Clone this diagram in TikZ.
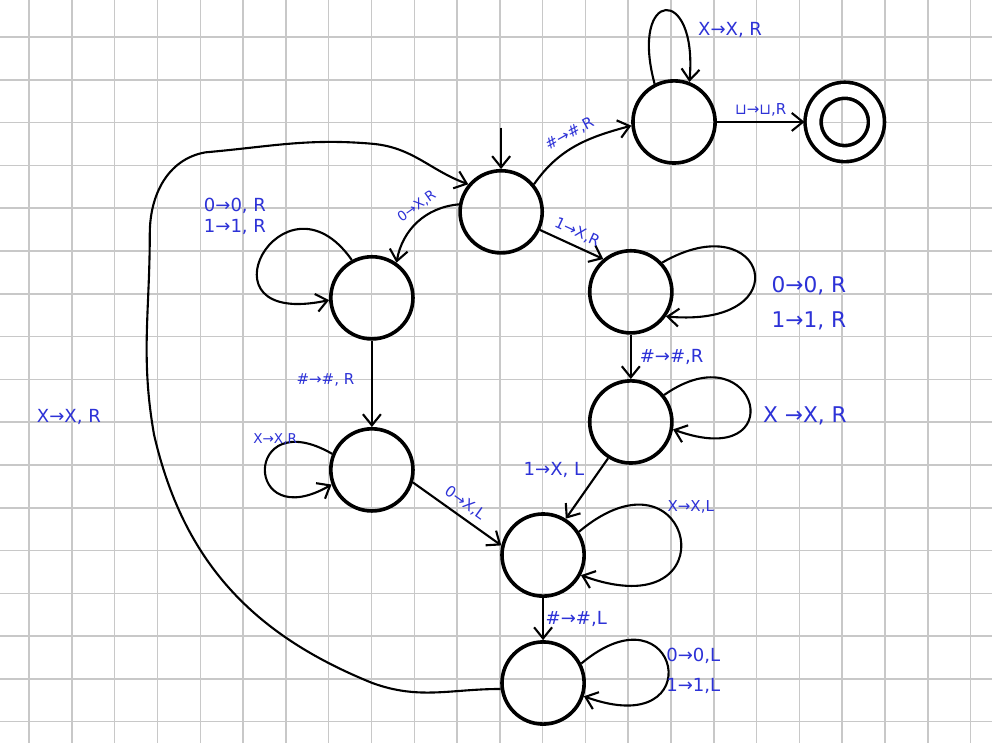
\documentclass[tikz,border=0pt]{standalone}
\usepackage{fontspec}
\setmainfont{DejaVu Sans}
\usepackage{tikz}
\usetikzlibrary{arrows.meta,positioning}
\definecolor{inkblue}{RGB}{45,50,215}
\definecolor{gridgray}{RGB}{200,200,200}
\tikzset{
  tm state/.style={
    circle,
    draw,
    line width=2.4pt,
    minimum size=1.92cm,
    inner sep=0pt
  },
  tm accept/.style={
    tm state,
    double,
    double distance=0.29cm,
    minimum size=1.48cm,
    outer sep=0.2cm
  },
  arrow/.style={
    -{Straight Barb[length=2.6mm,width=4.2mm]},
    line width=1.4pt
  },
  tm label/.style={
    text=inkblue,
    inner sep=1pt,
    font=\normalsize
  },
  paper/.style={
    gridgray,
    line width=1pt
  }
}

\begin{document}
\begin{tikzpicture}
  \useasboundingbox (0,0) rectangle (23.18,17.36);
  % squared paper
  \fill[white] (0,0) rectangle (23.18,17.36);
  \draw[paper, xshift=0.68cm, yshift=0.495cm] (-0.68,-0.495) grid (22.5,16.87);

  % states
  \node[tm state] (start) at (11.71,12.41) {};
  \node[tm state] (top) at (15.75,14.51) {};
  \node[tm accept] (acc) at (19.74,14.51) {};
  \node[tm state] (A) at (8.69,10.40) {};
  \node[tm state] (B) at (14.74,10.54) {};
  \node[tm state] (C) at (14.74,7.50) {};
  \node[tm state] (D) at (8.69,6.38) {};
  \node[tm state] (E) at (12.69,4.39) {};
  \node[tm state] (F) at (12.69,1.40) {};
  \coordinate (init) at (11.71,14.38);

  % initial arrow
  \draw[arrow] (init) -- (start);

  % upper branch
  \draw[arrow] (start.40) to[out=55,in=195] node[tm label, sloped, above=3pt, pos=0.5] (l1) {\#→\#,R} (top.185);
  \draw[arrow] (top.117) .. controls +(105:2.3) and +(85:2.3) .. (top.69);
  \node[tm label, font=\large] (l2) at (17.06,16.66) {X→X, R};
  \draw[arrow] (top) -- node[tm label, above=2pt] (l3) {⊔→⊔,R} (acc);

  % left branch
  \draw[arrow] (start.170) to[out=185,in=80] node[tm label, font=\small, sloped, above=3pt, pos=0.4] (l4) {0→X,R} (A.55);
  \draw[arrow] (A.118) .. controls +(125:2.8) and +(192:3.3) .. (A.183);
  \node[tm label, font=\large, align=left] (l5) at (5.49,12.31) {0→0, R\\1→1, R};
  \draw[arrow] (A) -- node[tm label, left=0.35cm, pos=0.45] (l8) {\#→\#, R} (D);
  \draw[arrow] (D.158) .. controls +(150:2.4) and +(210:2.4) .. (D.200);
  \node[tm label, font=\small] (l9) at (6.43,7.10) {X→X,R};
  \draw[arrow] (D.-17) -- node[tm label, sloped, above=3pt] (l13) {0→X,L} (E.167);

  % right branch
  \draw[arrow] (start.-25) -- node[tm label, sloped, above=3pt] (l6) {1→X,R} (B.130);
  \draw[arrow] (B.43) .. controls +(30:2.8) and +(-5:3.2) .. (B.-35);
  \node[tm label, font=\Large, align=left] (l7) at (18.9,10.28) {0→0, R\\[5pt]1→1, R};
  \draw[arrow] (B) -- node[tm label, right=0.15cm, font=\large] (l10) {\#→\#,R} (C);
  \draw[arrow] (C.39) .. controls +(35:2.7) and +(-20:3) .. (C.-10);
  \node[tm label, font=\Large] (l11) at (18.81,7.64) {X →X, R};
  \draw[arrow] (C.238) -- node[tm label, left=0.3cm, pos=0.2, font=\large] (l12) {1→X, L} (E.58);

  % bottom
  \draw[arrow] (E.33) .. controls +(40:3.5) and +(-20:3.8) .. (E.-28);
  \node[tm label] (l14) at (16.14,5.51) {X→X,L};
  \draw[arrow] (E) -- node[tm label, right, font=\large] (l15) {\#→\#,L} (F);
  \draw[arrow] (F.27) .. controls +(40:3.0) and +(-20:3.2) .. (F.-18);
  \node[tm label, font=\large, align=left] (l16) at (16.2,1.68) {0→0,L\\[6pt]1→1,L};

  % back to start
  \draw[arrow] (F.188) to[out=180,in=-20] (8.7,1.4) to[out=158,in=-77] (3.6,7.2)
    to[out=100,in=-90] (3.5,11.9) to[out=90,in=190] (4.8,13.8)
    to[out=5,in=175] (8.7,14.0) to[out=-5,in=160] (start.140);
  \node[tm label, font=\large] (l17) at (1.61,7.62) {X→X, R};
\end{tikzpicture}
\end{document}
